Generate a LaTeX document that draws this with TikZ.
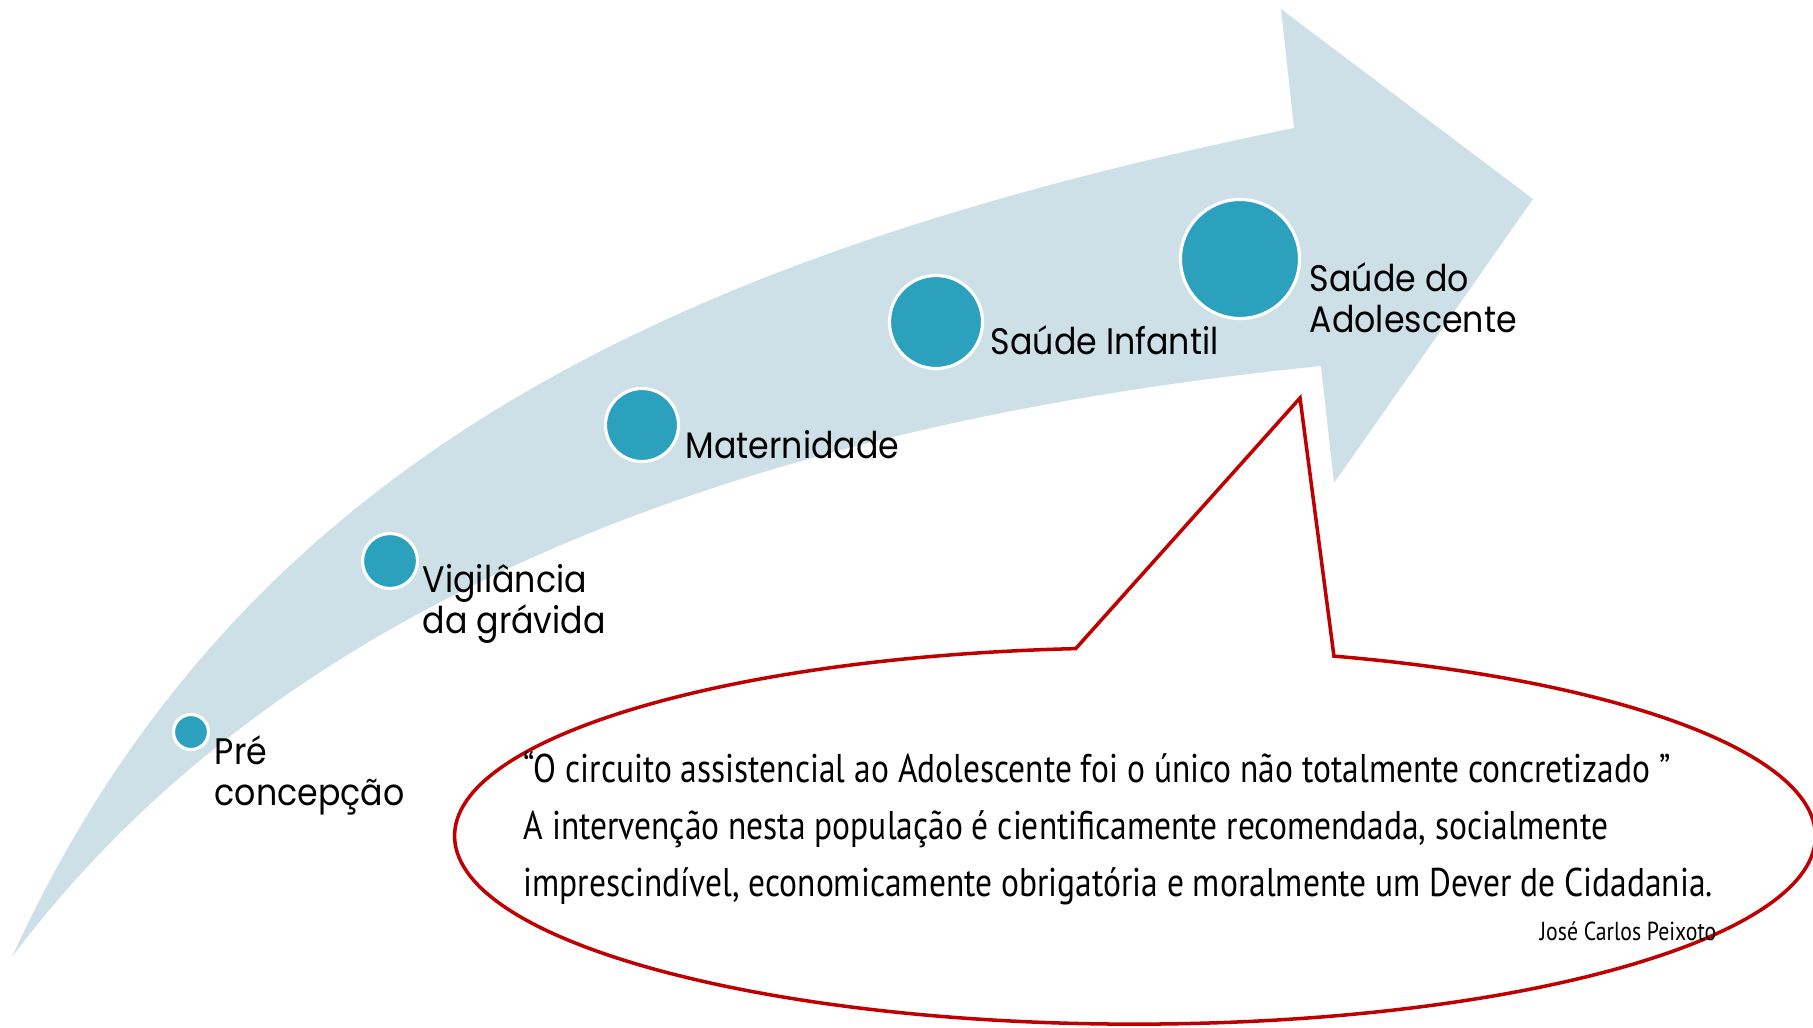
\documentclass[tikz,border=0pt]{standalone}
\usepackage{fontspec}
\usepackage{tikz}
\usetikzlibrary{positioning}
\setsansfont{Poppins}[FakeStretch=0.9]
\newfontfamily\quotefont[FakeStretch=0.835]{PT Sans}
\definecolor{bandblue}{RGB}{205,224,232}
\definecolor{dotblue}{RGB}{44,161,190}
\definecolor{callred}{RGB}{192,0,0}

\begin{document}
\begin{tikzpicture}[x=0.01cm,y=0.01cm,
  dot node/.style={circle,fill=dotblue,draw=white,line width=0.9pt,inner sep=0pt},
  text node/.style={inner sep=0pt,align=left,font=\sffamily\fontsize{10.5}{11.7}\selectfont},
  quote node/.style={inner sep=0pt,align=left,font=\quotefont\fontsize{11.4}{16.2}\selectfont}]
  \useasboundingbox (0,0) rectangle (1813,-1027);

  % the curved arrow
  \fill[bandblue] (12,-957) .. controls (235,-470) and (657,-258) .. (1294,-128)
    -- (1281,-9) -- (1533,-199) -- (1334,-483) -- (1321,-366)
    .. controls (674,-431) and (252,-637) .. (12,-957) -- cycle;

  \node[dot node,minimum size=0.35cm] (pre) at (191,-732) {};
  \node[dot node,minimum size=0.55cm] (vig) at (390,-561) {};
  \node[dot node,minimum size=0.73cm] (mat) at (642,-425) {};
  \node[dot node,minimum size=0.93cm] (inf) at (936,-322) {};
  \node[dot node,minimum size=1.19cm] (ado) at (1240,-259) {};

  \node[text node] (prelbl) [below right=0.03cm and 0.04cm of pre.east] {Pré\\concepção};
  \node[text node] (viglbl) [below right=0.03cm and 0.03cm of vig.east] {Vigilância\\da grávida};
  \node[text node] (matlbl) [below right=0.05cm and 0.05cm of mat.east] {Maternidade};
  \node[text node] (inflbl) [below right=0.03cm and 0.06cm of inf.east] {Saúde Infantil};
  \node[text node] (adolbl) [below right=0.03cm and 0.08cm of ado.east] {Saúde do\\Adolescente};

  % speech bubble
  \coordinate (cc) at (1135,-836);
  \coordinate (tip) at (1300,-398);
  \draw[callred,line width=1pt,fill=white] ([shift={(95:6.8cm and 1.88cm)}]cc)
    arc[start angle=95,end angle=433,x radius=6.8cm,y radius=1.88cm] -- (tip) -- cycle;

  \node[quote node,anchor=north west] (quote) at (523,-751) {“O circuito assistencial ao Adolescente foi o único não totalmente concretizado ”\\A intervenção nesta população é cientificamente recomendada, socialmente\\imprescindível, economicamente obrigatória e moralmente um Dever de Cidadania.};
  \node[quote node,font=\quotefont\fontsize{7.4}{9}\selectfont,anchor=base east] (author) at (1717,-940) {José Carlos Peixoto};
\end{tikzpicture}
\end{document}
